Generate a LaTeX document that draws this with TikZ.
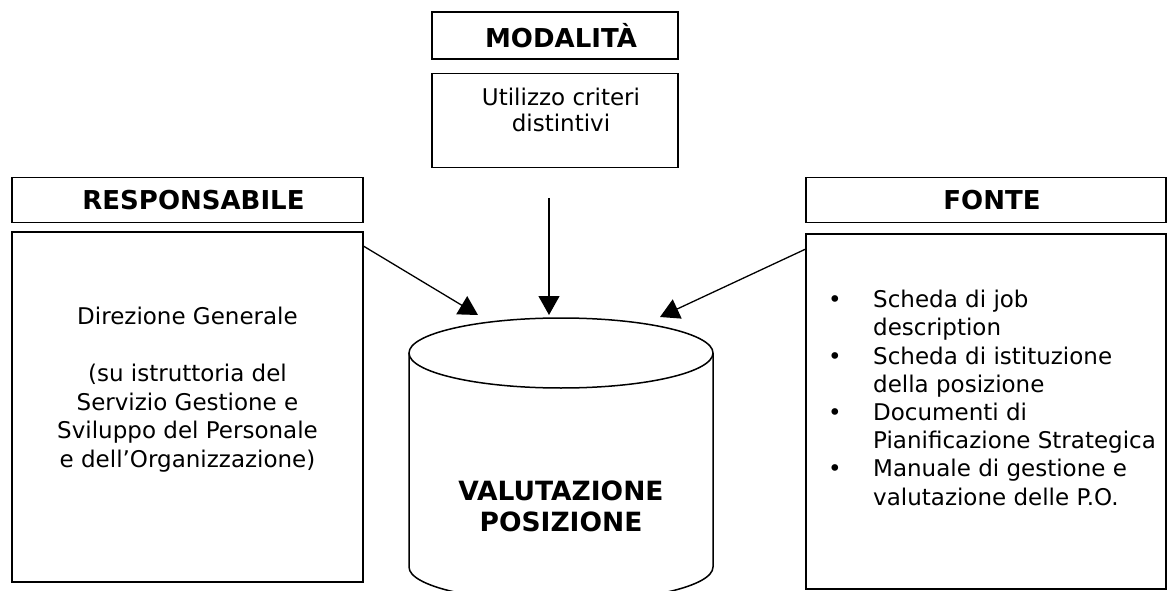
\documentclass[tikz,border=0pt]{standalone}
\usepackage{fontspec}
\setmainfont{DejaVu Sans}
\usetikzlibrary{arrows.meta, positioning}
\tikzset{
  headbox/.style={draw, line width=1.5pt, inner sep=0pt, minimum height=45pt, execute at begin node=\hspace*{12pt}, font=\fontsize{26}{30}\selectfont\bfseries},
  bodybox/.style={draw, line width=1.5pt, inner sep=0pt},
  bodytext/.style={align=center, inner sep=0pt, font=\fontsize{23}{28.5}\selectfont},
  feed/.style={->, line width=1.3pt},
  cyl/.style={line width=1.5pt}
}

\begin{document}
\begin{tikzpicture}[x=1pt, y=-1pt, >={Triangle[length=19pt, width=21pt]}]
\clip (0,0) rectangle (1168,591);
\node[headbox, minimum width=246pt, minimum height=47pt] (modhead) at (555,35.5) {MODALITÀ};
\node[bodybox, minimum width=246pt, minimum height=94pt, below=13pt of modhead] (modbody) {};
\node[bodytext, anchor=base, font=\fontsize{23}{26}\selectfont] (modtext) at (561,132) {Utilizzo criteri\\distintivi};
\node[headbox, minimum width=351pt] (resphead) at (187.5,200) {RESPONSABILE};
\node[bodybox, minimum width=351pt, minimum height=350pt, below=8pt of resphead] (respbody) {};
\node[bodytext, anchor=base] (resptext) at (187.5,467) {Direzione Generale\\[29pt](su istruttoria del\\Servizio Gestione e\\Sviluppo del Personale\\e dell’Organizzazione)};
\node[headbox, minimum width=360pt] (fontehead) at (986,200) {FONTE};
\node[bodybox, minimum width=360pt, minimum height=355pt, below=10pt of fontehead] (fontebody) {};
\node[bodytext, align=left, anchor=base west, font=\fontsize{23}{28.2}\selectfont] (fontetext) at (828,505) {%
\makebox[45pt][l]{\textbullet}Scheda di job\\\hspace*{45pt}description\\
\makebox[45pt][l]{\textbullet}Scheda di istituzione\\\hspace*{45pt}della posizione\\
\makebox[45pt][l]{\textbullet}Documenti di\\\hspace*{45pt}Pianificazione Strategica\\
\makebox[45pt][l]{\textbullet}Manuale di gestione e\\\hspace*{45pt}valutazione delle P.O.};
\draw[cyl] (409,353) -- (409,567) arc[start angle=180, end angle=360, x radius=152pt, y radius=35pt] -- (713,353);
\draw[cyl] (561,353) ellipse [x radius=152pt, y radius=35pt];
\node[bodytext, anchor=base, font=\fontsize{26.5}{31}\selectfont\bfseries] (valtext) at (561,531) {VALUTAZIONE\\POSIZIONE};
\coordinate (modfoot) at (549,198);
\coordinate (tipL) at (478,315);
\coordinate (tipM) at (549,315);
\coordinate (tipR) at (660,317);
\draw[feed] ([yshift=-15pt]respbody.north east) -- (tipL);
\draw[feed] (modfoot) -- (tipM);
\draw[feed] ([yshift=-16pt]fontebody.north west) -- (tipR);
\end{tikzpicture}
\end{document}
